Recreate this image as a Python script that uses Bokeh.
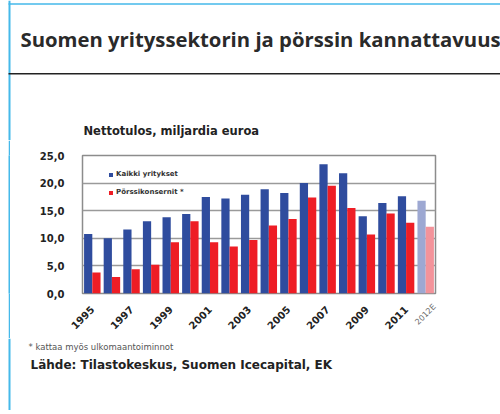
import math
from bokeh.plotting import figure
from bokeh.layouts import column, row
from bokeh.models import (ColumnDataSource, CDSView, IndexFilter, Range1d, FixedTicker,
                          Legend, LegendItem, LinearAxis, Spacer)
from bokeh.core.properties import value
from bokeh.transform import dodge
from bokeh.embed import file_html
from bokeh.resources import INLINE

# ---- data ----
years = ["1995", "1996", "1997", "1998", "1999", "2000", "2001", "2002", "2003",
         "2004", "2005", "2006", "2007", "2008", "2009", "2010", "2011", "2012E"]
kaikki_yritykset = [10.8, 10.0, 11.6, 13.1, 13.8, 14.4, 17.5, 17.2, 17.9,
                    18.9, 18.2, 20.0, 23.4, 21.8, 14.0, 16.4, 17.6, 16.8]
porssikonsernit = [3.8, 3.0, 4.4, 5.2, 9.3, 13.1, 9.3, 8.5, 9.7,
                   12.3, 13.5, 17.4, 19.5, 15.5, 10.7, 14.5, 12.8, 12.1]
y_ticks = [0, 5, 10, 15, 20, 25]
y_tick_labels = ["0,0", "5,0", "10,0", "15,0", "20,0", "25,0"]
x_labelled_years = ["1995", "1997", "1999", "2001", "2003", "2005", "2007", "2009", "2011"]
estimate_year = "2012E"

header_title = "Suomen yrityssektorin ja pörssin kannattavuus"
chart_title = "Nettotulos, miljardia euroa"
series_names = ["Kaikki yritykset", "Pörssikonsernit *"]
footnote = "* kattaa myös ulkomaantoiminnot"
source_text = "Lähde: Tilastokeskus, Suomen Icecapital, EK"

# ---- styling ----
BLUE = "#2f4c9e"
RED = "#ee1d25"
BLUE_EST = "#9da8d2"
RED_EST = "#f3939a"
TXT = "#222222"
HEADER_BLUE = "#45b9ea"
FONT = "DejaVu Sans"

W = 500
HEADER_H = 140   # page y 0..140
CHART_H = 198    # page y 140..338
FOOTER_H = 72    # page y 338..410
STRIPE_X0, STRIPE_X1 = 8, 10


def deco_figure(w, h, x0, top_page_y):
    f = figure(width=w, height=h, output_backend="svg", toolbar_location=None,
               x_range=Range1d(x0, x0 + w), y_range=Range1d(top_page_y + h, top_page_y),
               x_axis_type=None, y_axis_type=None, min_border=0, title=None)
    f.outline_line_color = None
    f.xgrid.visible = False
    f.ygrid.visible = False
    f.background_fill_color = "white"
    f.border_fill_color = "white"
    # left blue stripe
    f.quad(left=[STRIPE_X0], right=[STRIPE_X1], top=[top_page_y], bottom=[top_page_y + h],
           fill_color=HEADER_BLUE, line_color=None)
    return f


# ---- header ----
head = deco_figure(W, HEADER_H, 0, 0)
head.quad(left=[STRIPE_X0], right=[W], top=[2.7], bottom=[4.2], fill_color=HEADER_BLUE, line_color=None)
head.quad(left=[STRIPE_X0], right=[W], top=[72.6], bottom=[74.1], fill_color="#222222", line_color=None)
head.text(x=[20], y=[38.3], text=[header_title], text_font=value("Open Sans"), text_font_size="20.3px",
          text_font_style="bold", text_color="#2a2a2a", text_baseline="alphabetic", text_align="left")
head.text(x=[83], y=[130.6], text=[chart_title], text_font=value(FONT), text_font_size="11.5px",
          text_font_style="bold", text_color=TXT, text_baseline="alphabetic", text_align="left")

# ---- footer ----
foot = deco_figure(W, FOOTER_H, 0, 140 + CHART_H)
foot.text(x=[28], y=[346.5], text=[footnote], text_font=value(FONT), text_font_size="8.5px",
          text_color="#555555", text_baseline="alphabetic", text_align="left")
foot.text(x=[30], y=[364.3], text=[source_text], text_font=value(FONT), text_font_size="12px",
          text_font_style="bold", text_color=TXT, text_baseline="alphabetic", text_align="left")

# ---- stripe beside chart (a blue-filled narrow figure after a white spacer) ----
stripe = figure(width=STRIPE_X1 - STRIPE_X0, height=CHART_H, output_backend="svg", toolbar_location=None,
                x_axis_type=None, y_axis_type=None, min_border=0, title=None)
stripe.outline_line_color = None
stripe.background_fill_color = HEADER_BLUE
stripe.border_fill_color = HEADER_BLUE
stripe.xgrid.visible = False
stripe.ygrid.visible = False
gap = Spacer(width=STRIPE_X0, height=CHART_H)

# ---- chart ----
positions = list(range(len(years)))
src = ColumnDataSource(dict(x=positions, year=years, kaikki=kaikki_yritykset, porssi=porssikonsernit))
est_index = years.index(estimate_year)
actual_view = CDSView(filter=IndexFilter([i for i in positions if i != est_index]))
est_view = CDSView(filter=IndexFilter([est_index]))

p = figure(width=W - STRIPE_X1, height=CHART_H, title=None, output_backend="svg", toolbar_location=None,
           x_range=Range1d(-0.5, len(years) - 0.5), y_range=Range1d(0, 25),
           x_axis_location=None,
           min_border_left=72, min_border_right=65, min_border_top=15, min_border_bottom=45)
p.background_fill_color = "white"
p.border_fill_color = "white"
p.outline_line_color = "#8c8c8c"
p.outline_line_width = 1.5

BW = 0.42
r_blue = p.vbar(x=dodge("x", -BW / 2), top="kaikki", width=BW, source=src, view=actual_view,
                fill_color=BLUE, line_color=None)
r_red = p.vbar(x=dodge("x", BW / 2), top="porssi", width=BW, source=src, view=actual_view,
               fill_color=RED, line_color=None)
p.vbar(x=dodge("x", -BW / 2), top="kaikki", width=BW, source=src, view=est_view,
       fill_color=BLUE_EST, line_color=None)
p.vbar(x=dodge("x", BW / 2), top="porssi", width=BW, source=src, view=est_view,
       fill_color=RED_EST, line_color=None)

# y axis
p.yaxis.ticker = FixedTicker(ticks=y_ticks)
p.yaxis.major_label_overrides = {t: l for t, l in zip(y_ticks, y_tick_labels)}
p.yaxis.axis_line_color = None
p.yaxis.major_tick_line_color = None
p.yaxis.minor_tick_line_color = None
p.yaxis.major_label_text_font = FONT
p.yaxis.major_label_text_font_style = "bold"
p.yaxis.major_label_text_font_size = "10px"
p.yaxis.major_label_text_color = TXT
p.yaxis.major_label_standoff = 12

# x axes: the estimate-year axis sits next to the frame, the year axis is pulled back up over it
est_tick = est_index + 0.45
EST_STANDOFF = 12
est_axis = LinearAxis(ticker=FixedTicker(ticks=[est_tick]),
                      major_label_overrides={est_tick: estimate_year},
                      major_label_orientation=math.pi / 4,
                      axis_line_color=None, major_tick_line_color=None, minor_tick_line_color=None,
                      major_tick_out=0, major_tick_in=0,
                      major_label_text_font=FONT, major_label_text_font_size="8px",
                      major_label_text_color="#6a6a6a", major_label_standoff=EST_STANDOFF)
year_axis = LinearAxis(ticker=FixedTicker(ticks=[years.index(y) for y in x_labelled_years]),
                       major_label_overrides={years.index(y): y for y in x_labelled_years},
                       major_label_orientation=math.pi / 4,
                       axis_line_color=None, major_tick_line_color=None, minor_tick_line_color=None,
                       major_tick_out=0, major_tick_in=0,
                       major_label_text_font=FONT, major_label_text_font_style="bold",
                       major_label_text_font_size="10px", major_label_text_color=TXT,
                       major_label_standoff=-25)
p.add_layout(est_axis, "below")
p.add_layout(year_axis, "below")

p.xgrid.visible = False
p.ygrid.ticker = FixedTicker(ticks=y_ticks[1:-1])
p.ygrid.grid_line_color = "#9a9a9a"
p.ygrid.grid_line_width = 1.5

legend = Legend(items=[LegendItem(label=series_names[0], renderers=[r_blue]),
                       LegendItem(label=series_names[1], renderers=[r_red])],
                location=(26, 95), orientation="vertical",
                border_line_color=None, background_fill_alpha=0,
                label_text_font=FONT, label_text_font_style="bold",
                label_text_font_size="7px", label_text_color="#333333",
                glyph_width=5, glyph_height=5, label_standoff=3, label_height=12,
                spacing=6, padding=0, margin=0)
p.add_layout(legend, "center")

layout = column(head, row(gap, stripe, p, spacing=0), foot, spacing=0)
open("out.html", "w").write(file_html(layout, INLINE))
